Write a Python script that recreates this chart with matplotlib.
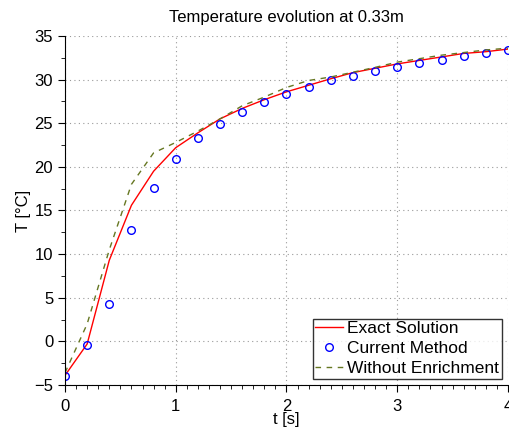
import numpy as np
import matplotlib
matplotlib.use("Agg")
import matplotlib.pyplot as plt
from matplotlib.ticker import MultipleLocator

plt.rcParams['font.family'] = ['Liberation Sans', 'DejaVu Sans']

# time samples (s)
t = [0.0, 0.2, 0.4, 0.6, 0.8, 1.0, 1.2, 1.4, 1.6, 1.8, 2.0,
     2.2, 2.4, 2.6, 2.8, 3.0, 3.2, 3.4, 3.6, 3.8, 4.0]

exact = [-3.9, -0.3, 9.3, 15.6, 19.5, 22.2, 23.9, 25.5, 26.7, 27.7, 28.6,
         29.35, 30.1, 30.8, 31.3, 31.8, 32.2, 32.6, 33.0, 33.2, 33.5]

current = [-4.0, -0.4, 4.25, 12.8, 17.6, 20.9, 23.3, 24.9, 26.3, 27.4, 28.4,
           29.15, 29.9, 30.45, 31.0, 31.5, 31.9, 32.3, 32.7, 33.0, 33.4]

no_enrich = [-3.6, 2.0, 10.5, 18.0, 21.6, 22.8, 24.1, 25.5, 27.0, 28.0, 29.1,
             29.9, 30.3, 30.85, 31.4, 32.0, 32.4, 32.8, 33.1, 33.4, 33.6]

fig = plt.figure(figsize=(5.09, 4.32), dpi=100)
ax = fig.add_axes([0.1277, 0.1088, 0.8703, 0.8079])

ax.plot(t, exact, '-', color='red', lw=1.0, label='Exact Solution')
ax.plot(t, current, 'o', color='blue', mfc='none', ms=5.5, mew=1.0,
        label='Current Method')
ax.plot(t, no_enrich, '--', color='#667722', lw=1.0, dashes=(4, 4),
        label='Without Enrichment')

ax.set_xlim(0, 4)
ax.set_ylim(-5, 35)
ax.xaxis.set_major_locator(MultipleLocator(1))
ax.xaxis.set_minor_locator(MultipleLocator(0.1))
ax.yaxis.set_major_locator(MultipleLocator(5))
ax.yaxis.set_minor_locator(MultipleLocator(2.5))
ax.tick_params(which='major', direction='out', length=5, width=0.8,
               labelsize=12, colors='black')
ax.tick_params(axis='x', which='major', pad=5)
ax.tick_params(which='minor', direction='out', length=3, width=0.6)
ax.grid(True, which='major', linestyle=(0, (1, 3)), color='#999999', lw=0.8)

for side in ['top', 'right']:
    ax.spines[side].set_visible(False)

ax.set_title('Temperature evolution at 0.33m', fontsize=12, pad=10)
ax.set_xlabel('t [s]', fontsize=12, labelpad=-1)
ax.set_ylabel('T [°C]', fontsize=12, labelpad=2)

leg = ax.legend(loc='lower right', fontsize=12.5, frameon=True, fancybox=False,
                borderpad=0.15, labelspacing=0.28, handlelength=1.6,
                handletextpad=0.25, borderaxespad=0.35)
leg.get_frame().set_edgecolor('black')
leg.get_frame().set_linewidth(1.0)

fig.savefig('out.png', dpi=100)
